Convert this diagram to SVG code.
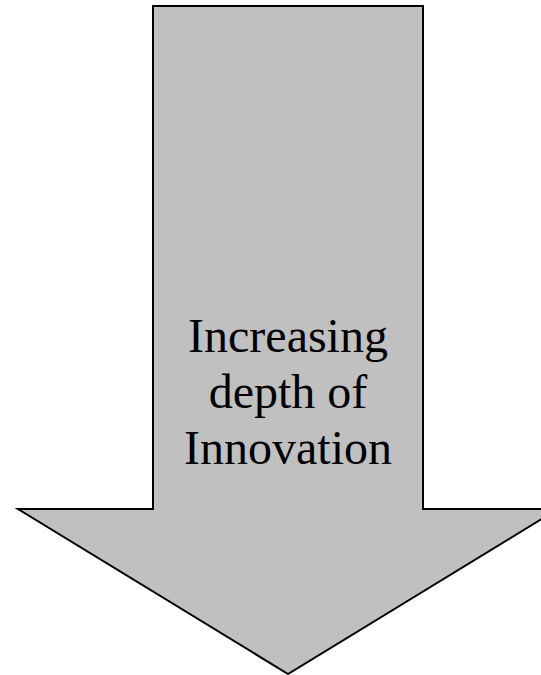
<svg xmlns="http://www.w3.org/2000/svg" width="541" height="675" viewBox="0 0 541 675">
<style>
.arrow{fill:#c0c0c0;stroke:#000;stroke-width:2;stroke-linejoin:miter}
.lbl{font-family:"Liberation Serif","Times New Roman",serif;font-size:48px;fill:#000;text-anchor:middle}
</style>
<rect width="541" height="675" fill="#fff"/>
<g id="arrow">
<polygon class="arrow" points="153,6 423,6 423,509 558,509 288,674 18,509 153,509"/>
<text class="lbl" x="288" y="352">Increasing</text>
<text class="lbl" x="288" y="408">depth of</text>
<text class="lbl" x="288" y="464">Innovation</text>
</g>
</svg>
